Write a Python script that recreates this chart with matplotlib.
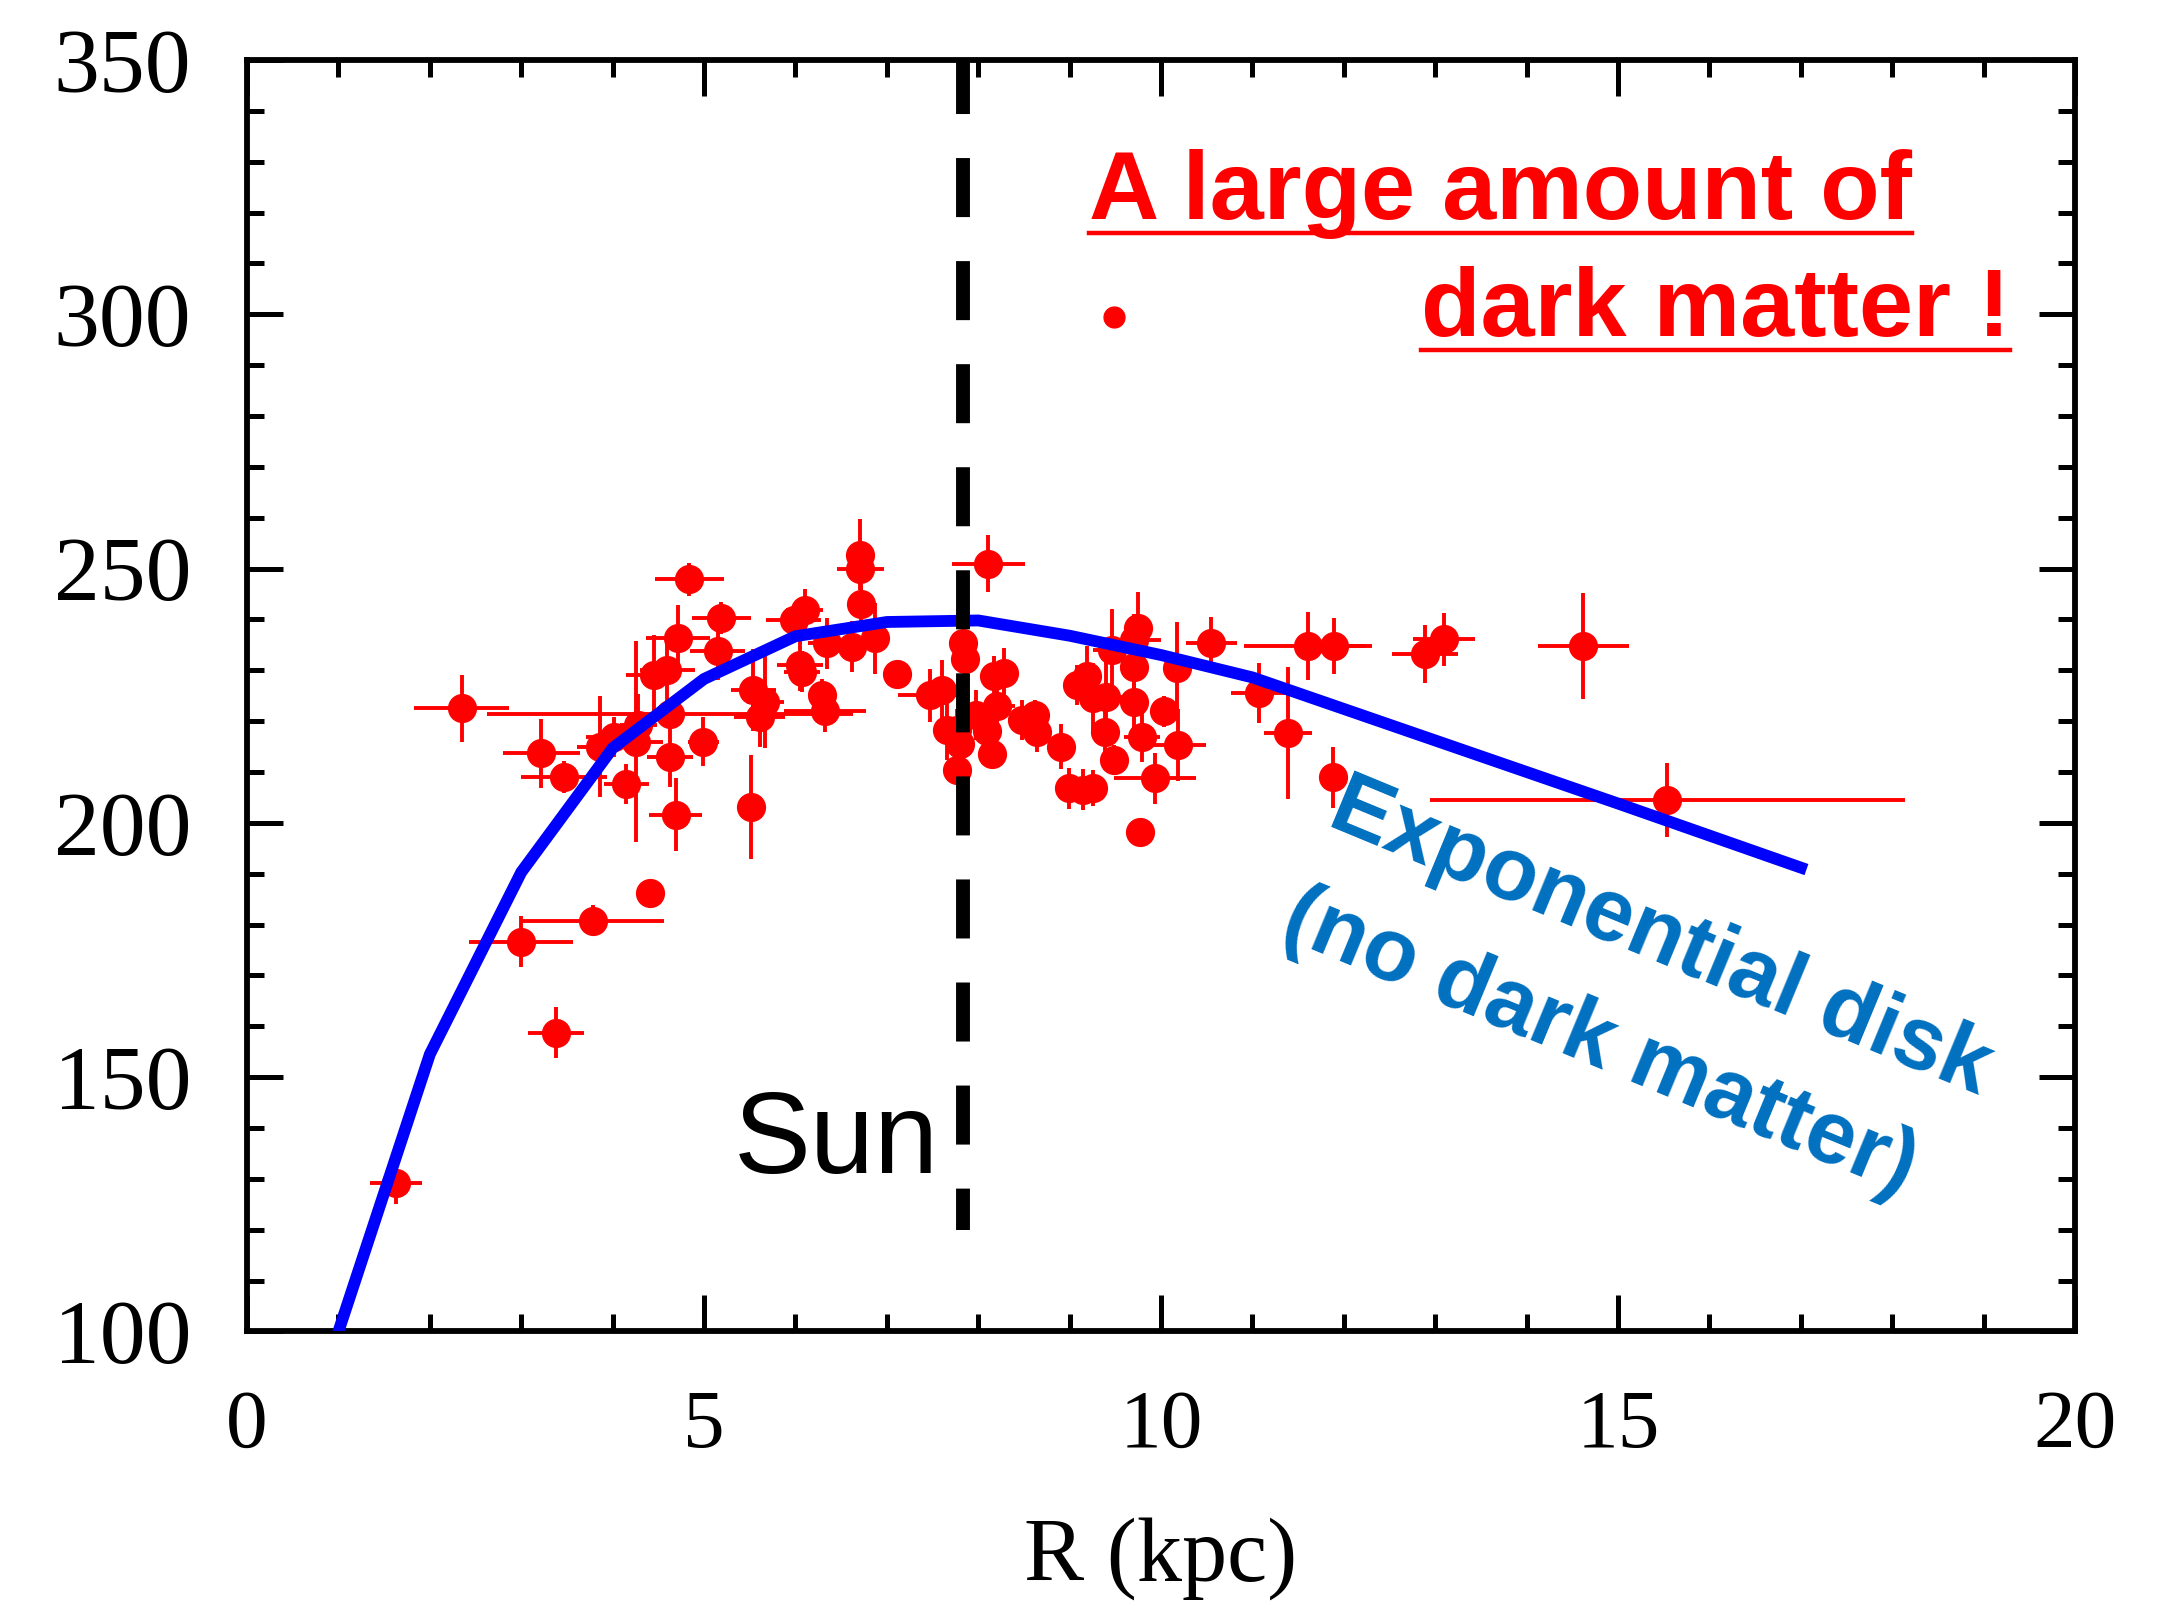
import matplotlib
matplotlib.use("Agg")
import matplotlib.pyplot as plt
from matplotlib.lines import Line2D
from matplotlib.ticker import MultipleLocator

# rotation curve measurements: R (kpc), V (km/s) and their errors
R = [1.63, 2.35, 3.22, 3.47, 3.00, 3.38, 3.78, 3.86, 4.01, 4.15,
     4.25, 4.28, 4.41, 4.45, 4.60, 4.63, 4.63, 4.69, 4.71, 4.84,
     4.99, 5.15, 5.19, 5.51, 5.54, 5.67, 5.61, 5.98, 6.10, 6.05,
     6.07, 6.29, 6.32, 6.34, 6.62, 6.71, 6.71, 6.72, 6.87, 7.11,
     7.47, 7.60, 7.66, 7.83, 7.85, 7.77, 7.80, 7.77, 8.11, 7.98,
     8.20, 8.10, 8.15, 8.17, 8.28, 8.48, 8.62, 8.64, 8.90, 8.99,
     9.15, 9.26, 9.08, 9.19, 9.26, 9.40, 9.39, 9.48, 9.93, 9.46,
     9.75, 9.70, 9.70, 9.70, 9.79, 10.03, 10.17, 10.19, 9.77, 10.55,
     11.07, 11.39, 11.61, 11.89, 11.88, 12.89, 13.10, 14.62, 15.54]
V = [129.1, 222.5, 213.7, 209.0, 176.6, 158.7, 180.8, 215.0, 216.9, 207.6,
     216.0, 219.3, 186.2, 229.0, 230.0, 213.0, 221.5, 201.6, 236.3, 247.9,
     216.0, 233.8, 240.3, 203.1, 226.1, 223.8, 220.9, 239.9, 241.9, 231.0,
     229.7, 225.2, 221.9, 235.3, 234.6, 252.7, 249.9, 243.0, 236.3, 229.3,
     225.1, 226.1, 218.3, 235.3, 232.3, 218.3, 215.6, 210.4, 251.0, 221.2,
     222.9, 218.0, 213.5, 228.8, 229.4, 220.2, 221.2, 217.9, 215.0, 206.8,
     206.5, 206.8, 227.1, 228.8, 224.5, 224.8, 217.9, 212.4, 208.8, 234.0,
     238.3, 236.0, 230.7, 223.8, 216.9, 221.9, 230.4, 215.3, 198.3, 235.3,
     225.5, 217.6, 234.8, 234.7, 209.0, 233.2, 236.1, 234.8, 204.5]
R_ERR = [0.28, 0.52, 0.42, 0.47, 0.57, 0.31, 0.78, 0.25, 0.30, 0.25,
         0.30, 0.20, 0.08, 0.30, 0.30, 0.25, 2.00, 0.29, 0.35, 0.38,
         0.17, 0.30, 0.32, 0.05, 0.25, 0.20, 0.28, 0.30, 0.20, 0.25,
         0.20, 0.15, 0.45, 0.20, 0.20, 0.10, 0.26, 0.10, 0.10, 0.15,
         0.35, 0.10, 0.10, 0.15, 0.10, 0.10, 0.10, 0.10, 0.40, 0.20,
         0.20, 0.10, 0.05, 0.15, 0.10, 0.15, 0.10, 0.10, 0.05, 0.15,
         0.10, 0.10, 0.10, 0.15, 0.20, 0.20, 0.10, 0.10, 0.45, 0.20,
         0.15, 0.30, 0.15, 0.15, 0.20, 0.10, 0.10, 0.30, 0.15, 0.28,
         0.31, 0.26, 0.70, 0.34, 0.05, 0.36, 0.34, 0.50, 2.60]
V_ERR = [4.0, 6.5, 6.8, 3.2, 5.0, 5.0, 3.1, 10.0, 4.0, 3.9,
         19.7, 6.0, 2.0, 8.0, 6.0, 5.9, 3.0, 7.2, 6.5, 3.2,
         4.8, 5.7, 3.1, 10.2, 8.0, 9.0, 6.0, 3.0, 4.0, 5.0,
         4.0, 3.0, 4.0, 5.0, 5.0, 7.0, 3.0, 4.0, 7.0, 2.0,
         5.2, 6.0, 6.0, 2.0, 3.0, 4.0, 4.0, 3.0, 5.6, 5.0,
         5.0, 4.0, 2.0, 4.0, 5.0, 4.0, 3.0, 4.0, 4.5, 4.0,
         4.0, 3.5, 4.0, 6.0, 7.0, 7.0, 7.0, 3.0, 5.0, 8.0,
         7.0, 5.0, 5.0, 6.0, 5.0, 3.0, 9.0, 7.0, 0.5, 5.2,
         5.9, 13.0, 6.7, 5.5, 6.0, 5.7, 5.2, 10.4, 7.2]

# the lone high point
OUTLIER_R = [9.48]
OUTLIER_V = [299.5]

# exponential disk model (no dark matter)
DISK_R = [1, 2, 3, 4, 5, 6, 7, 8, 9, 10, 11, 12, 13, 14, 15, 16, 17]
DISK_V = [100.0, 154.5, 190.3, 214.7, 228.3, 236.7, 239.5, 239.8, 236.8,
          233.0, 228.6, 222.4, 216.2, 210.0, 203.8, 197.5, 191.2]

SUN_R = 7.83
SUN_V_RANGE = (120, 350)

X_TICKS = [0, 5, 10, 15, 20]
Y_TICKS = [100, 150, 200, 250, 300, 350]

RED = "#FF0000"
BLUE_LINE = "#0000FF"
BLUE_TEXT = "#0070C0"


def style_axes(ax):
    ax.set_xlim(0, 20)
    ax.set_ylim(100, 350)
    ax.set_xticks(X_TICKS)
    ax.set_yticks(Y_TICKS)
    ax.xaxis.set_minor_locator(MultipleLocator(1))
    ax.yaxis.set_minor_locator(MultipleLocator(10))
    ax.tick_params(which="both", direction="in", top=True, right=True, width=3.6, color="black")
    ax.tick_params(which="major", length=26)
    ax.tick_params(which="minor", length=12)
    ax.tick_params(axis="y", which="major", pad=40, labelsize=66)
    ax.tick_params(axis="x", which="major", pad=42, labelsize=60)
    for label in ax.get_xticklabels() + ax.get_yticklabels():
        label.set_fontfamily("Liberation Serif")
    for spine in ax.spines.values():
        spine.set_linewidth(4.2)
    ax.set_xlabel("R (kpc)", fontsize=65, fontfamily="Liberation Serif")
    ax.xaxis.label.set_va("baseline")
    ax.xaxis.set_label_coords(0.5, -0.196)


def underline(fig, ax, text, drop_px=14, lw=3.2):
    fig.canvas.draw()
    bb = text.get_window_extent()
    base_y = ax.transData.transform(text.get_position())[1] - drop_px
    inv = fig.transFigure.inverted()
    (x0, y0), (x1, _) = inv.transform([(bb.x0, base_y), (bb.x1, base_y)])
    fig.add_artist(Line2D([x0, x1], [y0, y0], color=RED, lw=lw, transform=fig.transFigure))


def main():
    fig = plt.figure(figsize=(21.69, 16.09), dpi=100)
    ax = fig.add_axes([0.1139, 0.1725, 0.8428, 0.7902])

    ax.errorbar(R, V, xerr=R_ERR, yerr=V_ERR, fmt="o", color=RED, ms=20,
                elinewidth=2.8, capsize=0, zorder=3)
    ax.errorbar(OUTLIER_R, OUTLIER_V, xerr=[0.08], yerr=[1.5], fmt="o", color=RED,
                ms=15, elinewidth=2.0, capsize=0, zorder=3)

    ax.plot(DISK_R, DISK_V, color=BLUE_LINE, lw=8.5, zorder=4, solid_joinstyle="miter")
    ax.plot([SUN_R, SUN_R], [SUN_V_RANGE[1], SUN_V_RANGE[0]], color="black", lw=10,
            linestyle=(0.36, (4.25, 3.17)), zorder=5)

    style_axes(ax)

    ax.text(5.32, 131.2, "Sun", fontsize=83, fontfamily="Liberation Sans",
            ha="left", va="baseline", zorder=6)

    t1 = ax.text(9.21, 318.8, "A large amount of", fontsize=70, fontweight="bold",
                 fontfamily="Liberation Sans", color=RED, ha="left", va="baseline", zorder=6)
    t2 = ax.text(19.29, 295.7, "dark matter !", fontsize=70, fontweight="bold",
                 fontfamily="Liberation Sans", color=RED, ha="right", va="baseline", zorder=6)

    ax.text(11.80, 199.6, "Exponential disk", fontsize=64, fontweight="bold",
            fontfamily="Liberation Sans", color=BLUE_TEXT, rotation=-22.5,
            rotation_mode="anchor", ha="left", va="baseline", zorder=6)
    ax.text(11.28, 177.9, "(no dark matter)", fontsize=64, fontweight="bold",
            fontfamily="Liberation Sans", color=BLUE_TEXT, rotation=-22.5,
            rotation_mode="anchor", ha="left", va="baseline", zorder=6)

    underline(fig, ax, t1)
    underline(fig, ax, t2)

    fig.savefig("out.png", dpi=100)


if __name__ == "__main__":
    main()
